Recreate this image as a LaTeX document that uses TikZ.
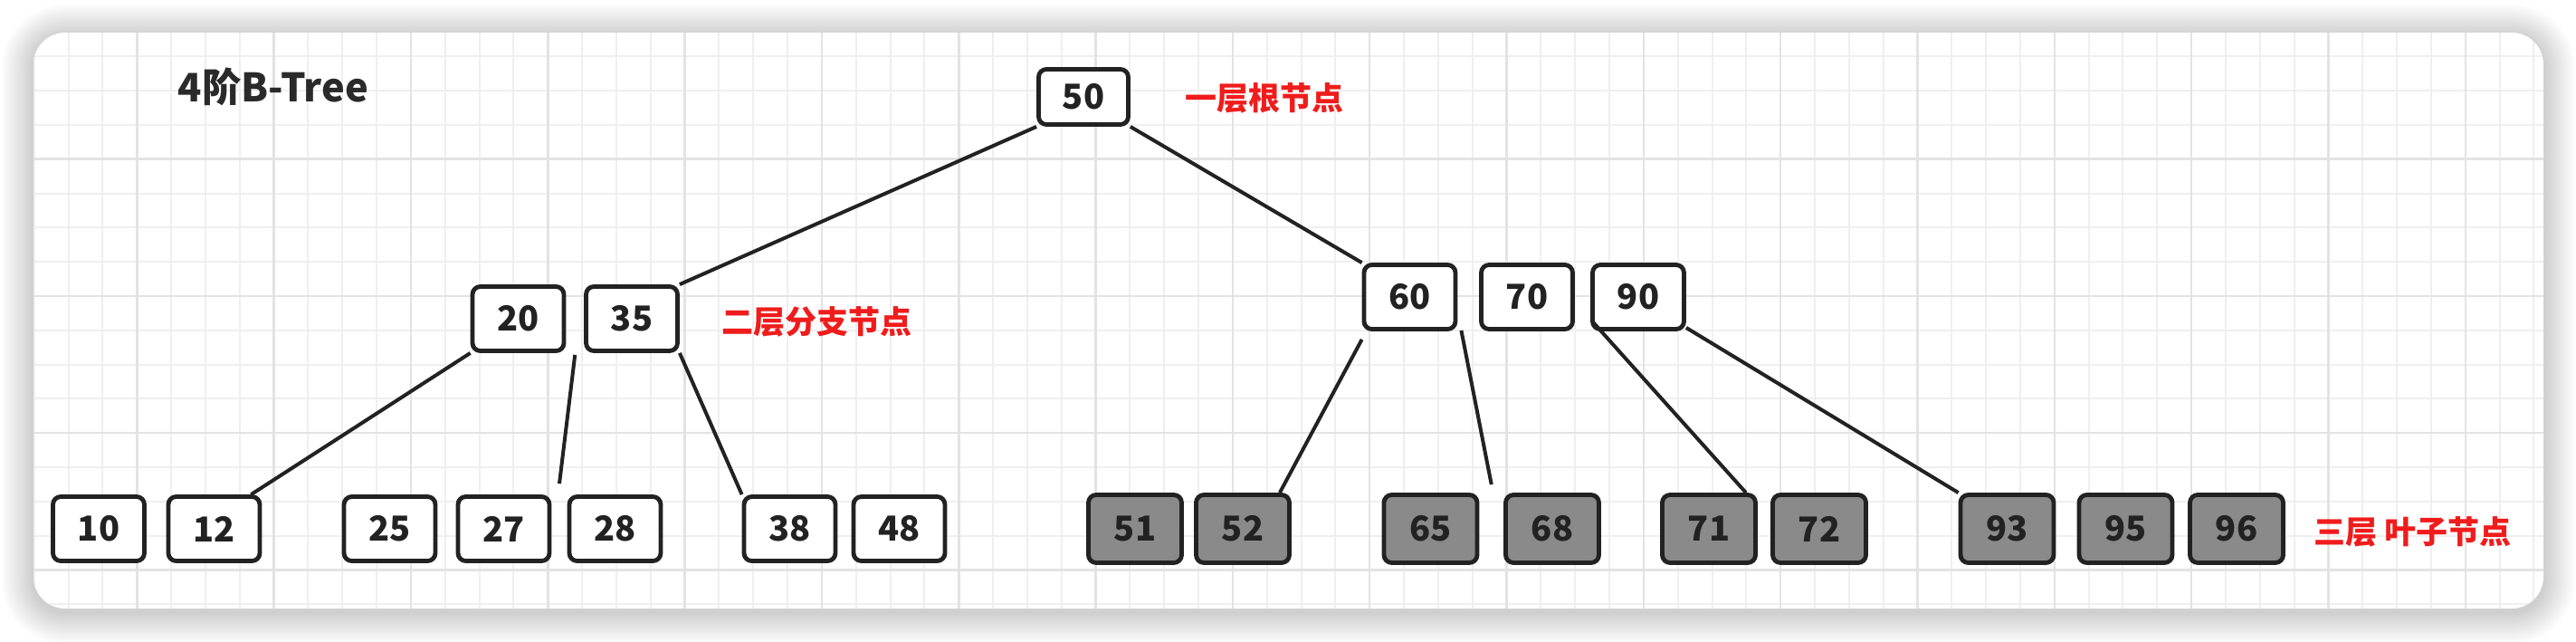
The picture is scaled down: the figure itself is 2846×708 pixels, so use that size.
\documentclass[tikz,border=0pt]{standalone}
\usepackage{fontspec}
\setmainfont{Noto Sans CJK SC}
\usetikzlibrary{calc}
\definecolor{ink}{HTML}{222222}
\definecolor{leafgray}{HTML}{8A8A8A}
\definecolor{lblred}{HTML}{F01C1C}
\definecolor{gridminor}{HTML}{EFEFEF}
\definecolor{gridmajor}{HTML}{E3E3E3}
\definecolor{titleink}{HTML}{2A2A2A}
\begin{document}
\begin{tikzpicture}[x=0.3pt,y=-0.3pt,
  keybox/.style={draw=ink, line width=1.45pt, rounded corners=2.6pt, fill=white,
    inner sep=0pt, text=ink, font=\fontsize{11.4pt}{13pt}\selectfont\bfseries,
    minimum width=30.3pt, minimum height=21.3pt},
  rootbox/.style={keybox, minimum width=29.7pt, minimum height=18.3pt},
  leafbox/.style={keybox, fill=leafgray, text=ink, minimum width=30.9pt, minimum height=22.5pt},
  lvllabel/.style={anchor=west, inner sep=0pt, text=lblred, font=\fontsize{10.5pt}{12pt}\selectfont\bfseries},
  edge/.style={draw=ink, line width=1.2pt},
  minorgrid/.style={draw=gridminor, line width=0.6pt},
  majorgrid/.style={draw=gridmajor, line width=0.75pt}]
\useasboundingbox (0,0) rectangle (2846,708);
\fill[white] (0,0) rectangle (2846,708);
% shadow
\foreach \i in {1,...,16} {
  \pgfmathsetmacro\xa{37-2.2*\i}
  \pgfmathsetmacro\ya{36-2.2*\i+4}
  \pgfmathsetmacro\xb{2810+2.2*\i}
  \pgfmathsetmacro\yb{672+2.2*\i+4}
  \pgfmathsetmacro\rr{10.5+0.66*\i}
  \fill[black, opacity=0.012, rounded corners=\rr pt] (\xa,\ya) rectangle (\xb,\yb);
}
% card
\fill[white, rounded corners=10.5pt] (37,36) rectangle (2810,672);
\begin{scope}
  \clip[rounded corners=10.5pt] (37,36) rectangle (2810,672);
  \foreach \k in {0,...,75} {
    \pgfmathsetmacro\xx{37.83*\k}
    \draw[minorgrid] (\xx,0) -- (\xx,708);
  }
  \foreach \k in {0,...,18} {
    \pgfmathsetmacro\yy{24.5+37.8*\k}
    \draw[minorgrid] (0,\yy) -- (2846,\yy);
  }
  \foreach \k in {0,4,...,72} {
    \pgfmathsetmacro\xx{37.83*\k}
    \draw[majorgrid] (\xx,0) -- (\xx,708);
  }
  \foreach \k in {0,4,...,16} {
    \pgfmathsetmacro\yy{24.5+37.8*\k}
    \draw[majorgrid] (0,\yy) -- (2846,\yy);
  }
\end{scope}
% title
\node[anchor=west, inner sep=0pt, text=titleink, font=\fontsize{13pt}{15pt}\selectfont\bfseries] (title) at (196,96) {4阶B-Tree};
% root
\node[rootbox] (n50) at (1197,107) {50};
% level 2
\node[keybox] (n20) at (572.5,352) {20};
\node[keybox] (n35) at (698,352) {35};
\node[keybox] (n60) at (1557.5,328) {60};
\node[keybox] (n70) at (1687,328) {70};
\node[keybox] (n90) at (1810,328) {90};
% leaves
\node[keybox] (n10) at (109,584) {10};
\node[keybox] (n12) at (236.5,584) {12};
\node[keybox] (n25) at (430.5,584) {25};
\node[keybox] (n27) at (556.5,584) {27};
\node[keybox] (n28) at (679.5,584) {28};
\node[keybox] (n38) at (872.5,584) {38};
\node[keybox] (n48) at (993.5,584) {48};
\node[leafbox] (n51) at (1254,584) {51};
\node[leafbox] (n52) at (1373,584) {52};
\node[leafbox] (n65) at (1580.5,584) {65};
\node[leafbox] (n68) at (1715,584) {68};
\node[leafbox] (n71) at (1888,584) {71};
\node[leafbox] (n72) at (2010,584) {72};
\node[leafbox] (n93) at (2217.5,584) {93};
\node[leafbox] (n95) at (2348.5,584) {95};
\node[leafbox] (n96) at (2471,584) {96};
% labels
\node[lvllabel] (l1) at (1309,108) {一层根节点};
\node[lvllabel] (l2) at (797,355) {二层分支节点};
\node[lvllabel] (l3) at (2556,587) {三层 叶子节点};
% free ends of pointer lines
\coordinate (p2835) at ($(n20.south east)!0.5!(n35.south west)+(0,2)$);
\coordinate (p2728) at ($(n27.north east)!0.5!(n28.north west)+(0,-12)$);
\coordinate (p60s) at ($(n60.south east)+(4,-1)$);
\coordinate (p6568) at ($(n65.north east)!0.5!(n68.north west)+(0,-9)$);
\coordinate (p60w) at ($(n60.south west)+(0,9)$);
% connectors
\draw[edge] (n50.south west) -- (n35.north east);
\draw[edge] (n50.south east) -- (n60.north west);
\draw[edge] (n20.south west) -- ($(n12.north east)+(-12,0)$);
\draw[edge] (p2835) -- (p2728);
\draw[edge] (n35.south east) -- (n38.north west);
\draw[edge] (p60w) -- ($(n52.north east)+(-13,0)$);
\draw[edge] (p60s) -- (p6568);
\draw[edge] ($(n90.south west)+(3,-10)$) -- ($(n71.north east)+(-13,0)$);
\draw[edge] ($(n90.south east)+(0,-4)$) -- (n93.north west);
\end{tikzpicture}
\end{document}
